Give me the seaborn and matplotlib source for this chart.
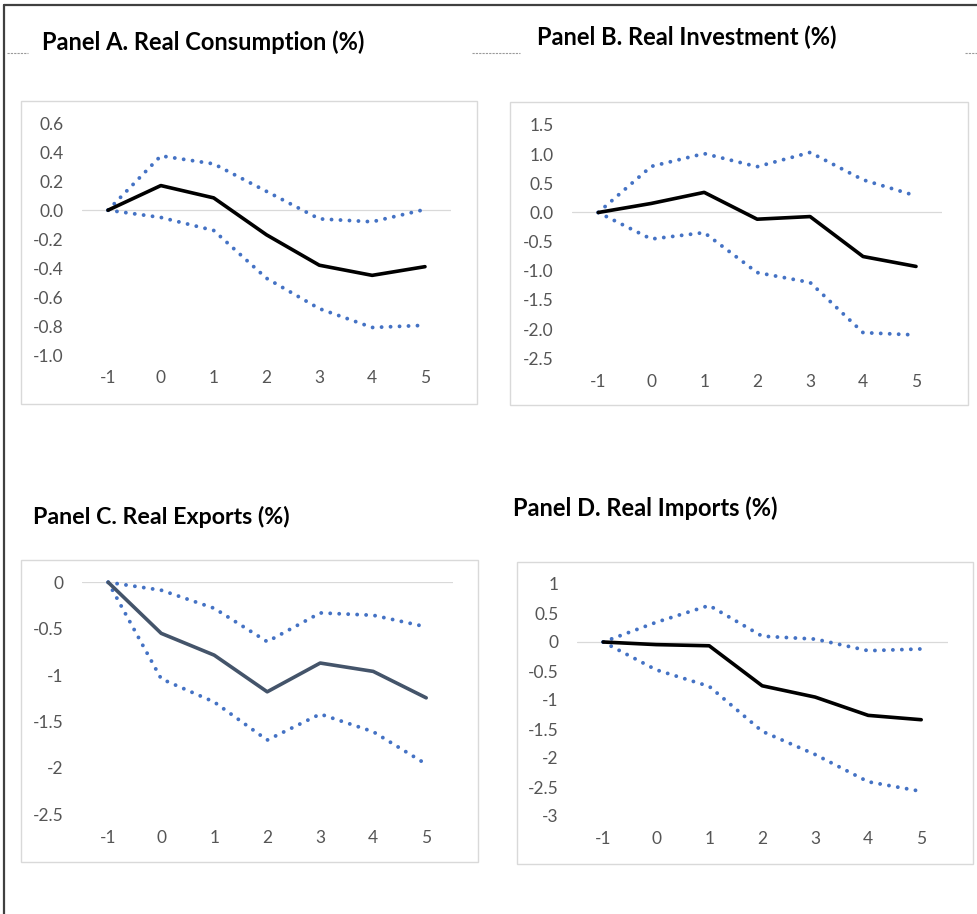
import matplotlib
matplotlib.use("Agg")
import matplotlib.pyplot as plt
from matplotlib.patches import Rectangle
from matplotlib.lines import Line2D
import seaborn as sns
import pandas as pd

# Horizon (years relative to the shock)
horizon = [-1, 0, 1, 2, 3, 4, 5]

# Panel A: real consumption response and confidence band
cons_irf = [0.0, 0.17, 0.085, -0.17, -0.38, -0.45, -0.39]
cons_upper = [0.0, 0.375, 0.32, 0.13, -0.06, -0.08, 0.005]
cons_lower = [0.0, -0.05, -0.14, -0.47, -0.68, -0.81, -0.795]

# Panel B: real investment
inv_irf = [0.0, 0.155, 0.345, -0.115, -0.07, -0.755, -0.925]
inv_upper = [0.0, 0.79, 1.01, 0.785, 1.03, 0.56, 0.285]
inv_lower = [0.0, -0.455, -0.345, -1.03, -1.2, -2.06, -2.1]

# Panel C: real exports
exp_irf = [0.0, -0.55, -0.785, -1.18, -0.87, -0.96, -1.245]
exp_upper = [0.0, -0.085, -0.28, -0.64, -0.33, -0.355, -0.48]
exp_lower = [0.0, -1.04, -1.29, -1.70, -1.42, -1.61, -1.96]

# Panel D: real imports
imp_irf = [0.0, -0.045, -0.065, -0.755, -0.95, -1.265, -1.34]
imp_upper = [0.0, 0.34, 0.63, 0.1, 0.05, -0.15, -0.12]
imp_lower = [0.0, -0.48, -0.765, -1.54, -1.94, -2.41, -2.575]

# Axis ticks
cons_yticks = [-1.0, -0.8, -0.6, -0.4, -0.2, 0.0, 0.2, 0.4, 0.6]
inv_yticks = [-2.5, -2.0, -1.5, -1.0, -0.5, 0.0, 0.5, 1.0, 1.5]
exp_yticks = [-2.5, -2, -1.5, -1, -0.5, 0]
imp_yticks = [-3, -2.5, -2, -1.5, -1, -0.5, 0, 0.5, 1]

titles = [
    "Panel A. Real Consumption (%)",
    "Panel B. Real Investment (%)",
    "Panel C. Real Exports (%)",
    "Panel D. Real Imports (%)",
]

sns.set_theme(style="white")
plt.rcParams["font.family"] = ["Lato", "DejaVu Sans"]

W, H = 978, 914
fig = plt.figure(figsize=(W / 100, H / 100), dpi=100)
fig.patch.set_facecolor("white")


def frac_rect(left, top, right, bottom):
    return [left / W, 1 - bottom / H, (right - left) / W, (bottom - top) / H]


BLUE = "#4472C4"
TICK = "#555555"

panels = [
    dict(plot=(81.6, 123.3, 451.4, 355.0), box=(21, 101, 477, 404),
         title_xy=(42, 42), title_size=17,
         irf=cons_irf, upper=cons_upper, lower=cons_lower,
         yticks=cons_yticks, fmt="{:.1f}", color="black"),
    dict(plot=(571.8, 125.0, 942.5, 358.3), box=(510, 102, 968, 405),
         title_xy=(537, 37), title_size=17,
         irf=inv_irf, upper=inv_upper, lower=inv_lower,
         yticks=inv_yticks, fmt="{:.1f}", color="black"),
    dict(plot=(81.7, 582.3, 452.7, 814.3), box=(21, 560, 478, 862),
         title_xy=(33, 517), title_size=16.7,
         irf=exp_irf, upper=exp_upper, lower=exp_lower,
         yticks=exp_yticks, fmt="{:g}", color="#44546A"),
    dict(plot=(576.7, 584.0, 947.7, 816.0), box=(517, 562, 973, 864),
         title_xy=(513, 508), title_size=17,
         irf=imp_irf, upper=imp_upper, lower=imp_lower,
         yticks=imp_yticks, fmt="{:g}", color="black"),
]

for p, title in zip(panels, titles):
    # chart border
    bx0, by0, bx1, by1 = p["box"]
    fig.patches.append(Rectangle((bx0 / W, 1 - by1 / H), (bx1 - bx0) / W, (by1 - by0) / H,
                                 transform=fig.transFigure, facecolor="none",
                                 edgecolor="#D9D9D9", linewidth=1.0, zorder=-1))

    ax = fig.add_axes(frac_rect(*p["plot"]))
    ax.set_facecolor("none")
    df = pd.DataFrame({"h": horizon, "irf": p["irf"], "up": p["upper"], "lo": p["lower"]})

    ax.axhline(0, color="#D9D9D9", linewidth=0.9, zorder=0)
    for col in ["up", "lo"]:
        sns.lineplot(data=df, x="h", y=col, ax=ax, color=BLUE, linewidth=2.8,
                     linestyle=(0, (0.01, 2.3)), dash_capstyle="round",
                     clip_on=False, zorder=2)
    sns.lineplot(data=df, x="h", y="irf", ax=ax, color=p["color"], linewidth=2.6,
                 solid_joinstyle="round", clip_on=False, zorder=3)

    ax.set_xlim(-1.5, 5.5)
    ax.set_ylim(min(p["yticks"]), max(p["yticks"]))
    ax.set_xticks(horizon)
    ax.set_xticklabels([str(h) for h in horizon])
    ax.set_yticks(p["yticks"])
    ax.set_yticklabels([p["fmt"].format(v) for v in p["yticks"]])
    ax.tick_params(axis="y", length=0, pad=13, labelsize=12.5, labelcolor=TICK)
    ax.tick_params(axis="x", length=0, pad=11, labelsize=12.5, labelcolor=TICK)
    ax.set_xlabel("")
    ax.set_ylabel("")
    for s in ax.spines.values():
        s.set_visible(False)
    ax.grid(False)

    tx, ty = p["title_xy"]
    fig.text(tx / W, 1 - ty / H, title, ha="left", va="center",
             fontsize=p["title_size"], fontweight="bold", color="black")

# outer frame (left and top edges)
fig.lines.append(Line2D([4 / W, 4 / W], [0, 1 - 5 / H], transform=fig.transFigure,
                        color="#404040", linewidth=1.6))
fig.lines.append(Line2D([4 / W, 1], [1 - 5 / H, 1 - 5 / H], transform=fig.transFigure,
                        color="#404040", linewidth=1.6))

# short dashed guides beside the top titles
for x0, x1 in [(7, 28), (472, 520), (965, 978)]:
    fig.lines.append(Line2D([x0 / W, x1 / W], [1 - 53 / H, 1 - 53 / H],
                            transform=fig.transFigure, color="#9A9A9A",
                            linewidth=0.8, linestyle=(0, (2, 1))))

fig.savefig("out.png", dpi=100)
